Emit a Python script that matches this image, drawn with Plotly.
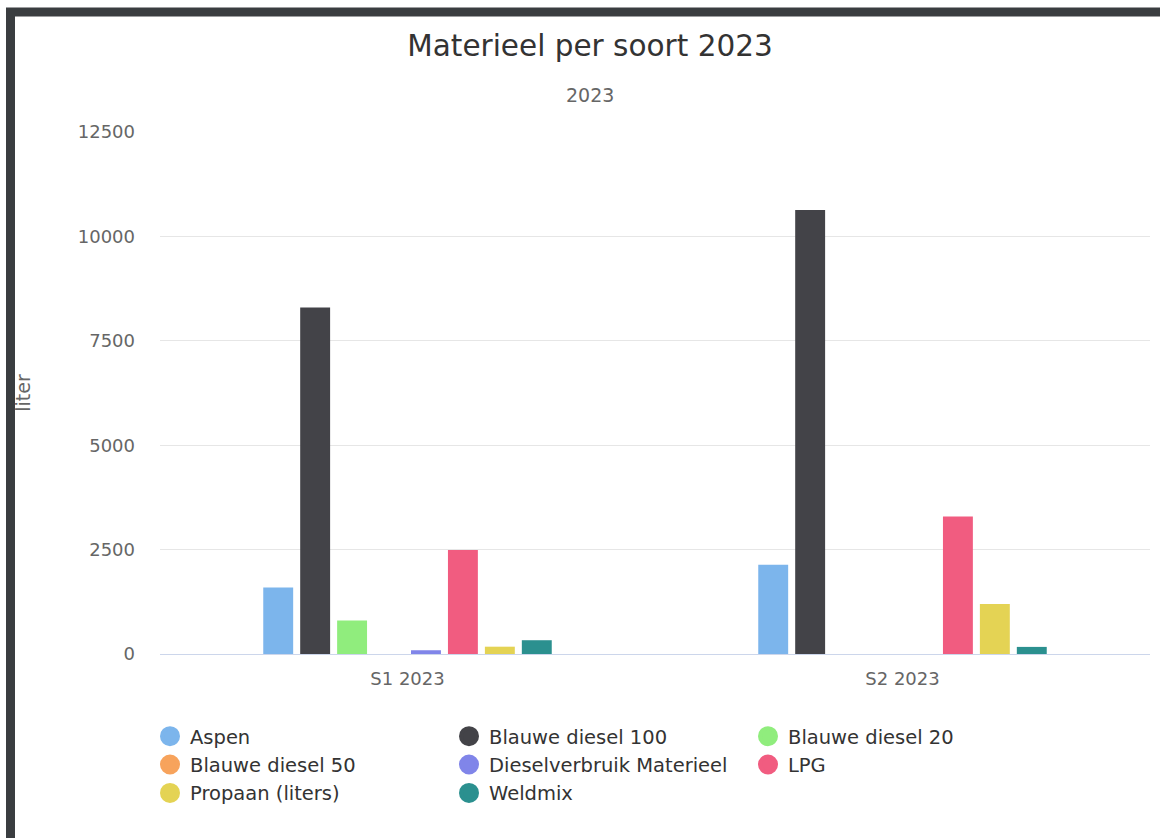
import plotly.graph_objects as go

# Periods on the category axis
categories = ["S1 2023", "S2 2023"]

# Consumption per material type (liter)
series_names = [
    "Aspen",
    "Blauwe diesel 100",
    "Blauwe diesel 20",
    "Blauwe diesel 50",
    "Dieselverbruik Materieel",
    "LPG",
    "Propaan (liters)",
    "Weldmix",
]
aspen = [1590, 2140]
blauwe_diesel_100 = [8300, 10630]
blauwe_diesel_20 = [800, 0]
blauwe_diesel_50 = [0, 0]
dieselverbruik_materieel = [90, 0]
lpg = [2490, 3290]
propaan = [175, 1200]
weldmix = [330, 170]

series_values = [
    aspen,
    blauwe_diesel_100,
    blauwe_diesel_20,
    blauwe_diesel_50,
    dieselverbruik_materieel,
    lpg,
    propaan,
    weldmix,
]

colors = ["#7cb5ec", "#434348", "#90ed7d", "#f7a35c",
          "#8085e9", "#f15c80", "#e4d354", "#2b908f"]

y_ticks = [0, 2500, 5000, 7500, 10000, 12500]

FONT = "DejaVu Sans"
W, H = 1160, 838
ML, MR, MT, MB = 160, 10, 132, 184
PW = W - ML - MR
PH = H - MT - MB


def px_x(p):
    return (p - ML) / PW


def px_y(p):
    return (H - MB - p) / PH


fig = go.Figure()

for name, vals, col in zip(series_names, series_values, colors):
    fig.add_trace(go.Bar(
        name=name, x=categories, y=vals, marker_color=col,
        marker_line_width=0, legendgroup=name, showlegend=False,
    ))

# Round legend markers, one per series
for name, col in zip(series_names, colors):
    fig.add_trace(go.Scatter(
        name=name, x=[None], y=[None], mode="markers",
        marker=dict(symbol="circle", size=16, color=col,
                    line=dict(color=col, width=4)),
        legendgroup=name, showlegend=True, hoverinfo="skip",
    ))

fig.update_layout(
    width=W, height=H,
    margin=dict(l=ML, r=MR, t=MT, b=MB, autoexpand=False),
    paper_bgcolor="white",
    plot_bgcolor="white",
    font=dict(family=FONT, color="#666666"),
    barmode="group",
    bargap=0.403,
    bargroupgap=0.19,
    title=dict(
        text="Materieel per soort 2023",
        font=dict(family=FONT, size=29.5, color="#333333"),
        xref="paper", x=px_x(590), xanchor="center",
        yref="container", y=1 - 45.5 / H, yanchor="middle",
    ),
    xaxis=dict(
        type="category",
        categoryorder="array", categoryarray=categories,
        showline=True, linecolor="#ccd6eb", linewidth=1,
        showgrid=False, zeroline=False, ticks="",
        tickfont=dict(family=FONT, size=18, color="#666666"),
        ticklabelstandoff=8,
    ),
    yaxis=dict(
        range=[0, 12500],
        tickvals=y_ticks,
        ticktext=[str(v) for v in y_ticks],
        showgrid=True, gridcolor="#e6e6e6", gridwidth=1,
        zeroline=False, showline=False, ticks="",
        tickfont=dict(family=FONT, size=18, color="#666666"),
        ticklabelstandoff=24,
        title=dict(text="liter", font=dict(family=FONT, size=19, color="#666666"),
                   standoff=42),
    ),
    legend=dict(
        orientation="h",
        xref="container", x=150 / W, xanchor="left",
        yref="container", y=1 - 717 / H, yanchor="top",
        entrywidth=254, entrywidthmode="pixels",
        tracegroupgap=0,
        font=dict(family=FONT, size=19.5, color="#333333"),
        bgcolor="rgba(0,0,0,0)",
        itemsizing="trace",
    ),
    showlegend=True,
    annotations=[dict(
        text="2023", showarrow=False,
        xref="paper", x=px_x(590), xanchor="center",
        yref="paper", y=px_y(95), yanchor="middle",
        font=dict(family=FONT, size=19, color="#666666"),
    )],
    shapes=[dict(
        type="rect", xref="paper", yref="paper",
        x0=px_x(10.5), x1=px_x(1175),
        y0=px_y(850), y1=px_y(12),
        line=dict(color="#3a3d40", width=9),
        fillcolor="rgba(0,0,0,0)", layer="above",
    )],
)

fig.write_html("out.html")
